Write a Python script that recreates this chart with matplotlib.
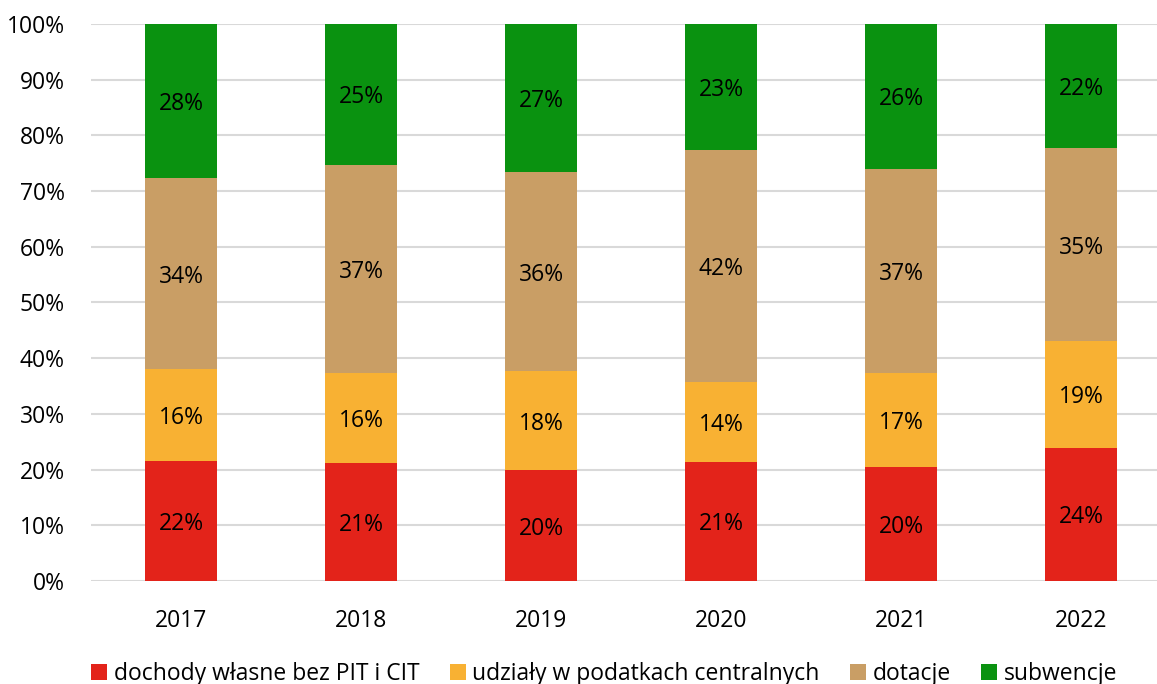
import numpy as np
import matplotlib
matplotlib.use('Agg')
import matplotlib.pyplot as plt
from matplotlib.patches import Patch

plt.rcParams['font.family'] = ['Open Sans', 'DejaVu Sans']

# ============================================================
# 数据 (shares of revenue, %)
# ============================================================
years = ['2017', '2018', '2019', '2020', '2021', '2022']
own_income = [21.6, 21.2, 19.9, 21.4, 20.5, 23.9]
tax_shares = [16.4, 16.1, 17.8, 14.3, 16.8, 19.2]
grants = [34.3, 37.4, 35.7, 41.7, 36.7, 34.6]
subsidies = [27.7, 25.3, 26.6, 22.6, 26.0, 22.3]

series_names = ['dochody własne bez PIT i CIT',
                'udziały w podatkach centralnych',
                'dotacje',
                'subwencje']
colors = ['#E3231A', '#F8B133', '#C99E65', '#0A9210']

fig = plt.figure(figsize=(11.57, 6.84), dpi=100)
ax = fig.add_axes([91 / 1157, 103 / 684, 1080 / 1157, 557 / 684])

x = np.arange(len(years))
bottom = np.zeros(len(years))
for vals, name, c in zip([own_income, tax_shares, grants, subsidies], series_names, colors):
    vals = np.array(vals)
    ax.bar(x, vals, width=0.4, bottom=bottom, color=c, label=name, zorder=3)
    for xi, b, v in zip(x, bottom, vals):
        ax.text(xi, b + v / 2, f'{v:.0f}%', ha='center', va='center_baseline',
                fontsize=16.5, color='black', zorder=4)
    bottom += vals

ax.set_xlim(-0.5, 5.5)
ax.set_ylim(0, 100)
ax.set_yticks(np.arange(0, 101, 10))
ax.set_yticklabels([f'{v}%' for v in range(0, 101, 10)], fontsize=16.5)
ax.set_xticks(x)
ax.set_xticklabels(years, fontsize=16.5)
ax.tick_params(length=0)
ax.tick_params(axis='y', pad=19)
ax.tick_params(axis='x', pad=20)
ax.grid(axis='y', color='#D9D9D9', lw=1.5, zorder=0)
for s in ax.spines.values():
    s.set_visible(False)

handles = [Patch(facecolor=c, label=n) for c, n in zip(colors, series_names)]
fig.legend(handles=handles, loc='center left', bbox_to_anchor=(82 / 1157, 10 / 684),
           ncol=4, frameon=False, fontsize=16.5, handlelength=0.7, handleheight=0.7,
           handletextpad=0.3, columnspacing=1.3, borderaxespad=0)

fig.savefig('out.png', dpi=100)
